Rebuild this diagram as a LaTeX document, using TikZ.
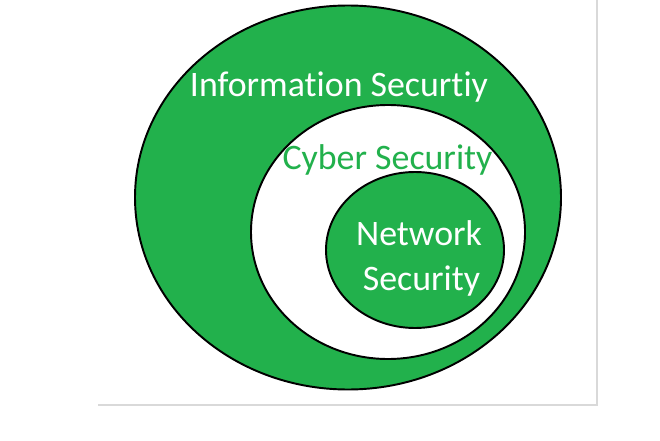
\documentclass[tikz,border=0pt]{standalone}
\usepackage{fontspec}
\setmainfont{Carlito}[RawFeature={-liga;-clig;-calt}]
\definecolor{secgreen}{HTML}{22B14C}
\definecolor{framegray}{HTML}{D9D9D9}
\tikzset{
  zone/.style={draw=black, line width=1.1pt},
  label/.style={anchor=base, inner sep=0pt, font=\fontsize{20.4}{24}\selectfont}
}
\begin{document}
\begin{tikzpicture}
  \useasboundingbox (0,0) rectangle (13.2,8.8);
  % page frame
  \draw[framegray, line width=0.9pt] (1.96,0.7) -- (11.94,0.7) -- (11.94,8.8);

  \draw[zone, fill=secgreen] (6.96,4.85) ellipse (4.26 and 3.84);
  \draw[zone, fill=white] (7.76,4.16) ellipse (2.74 and 2.54);
  \draw[zone, fill=secgreen] (8.30,3.80) ellipse (1.78 and 1.56);

  \node[label, text=white] (info) at (6.78,6.86) {Information Securtiy};
  \node[label, text=secgreen] (cyber) at (7.75,5.40) {Cyber Security};
  \node[label, text=white] (net) at (8.38,3.90) {Network};
  \node[label, text=white] (netsec) at (8.43,3.00) {Security};
\end{tikzpicture}
\end{document}
